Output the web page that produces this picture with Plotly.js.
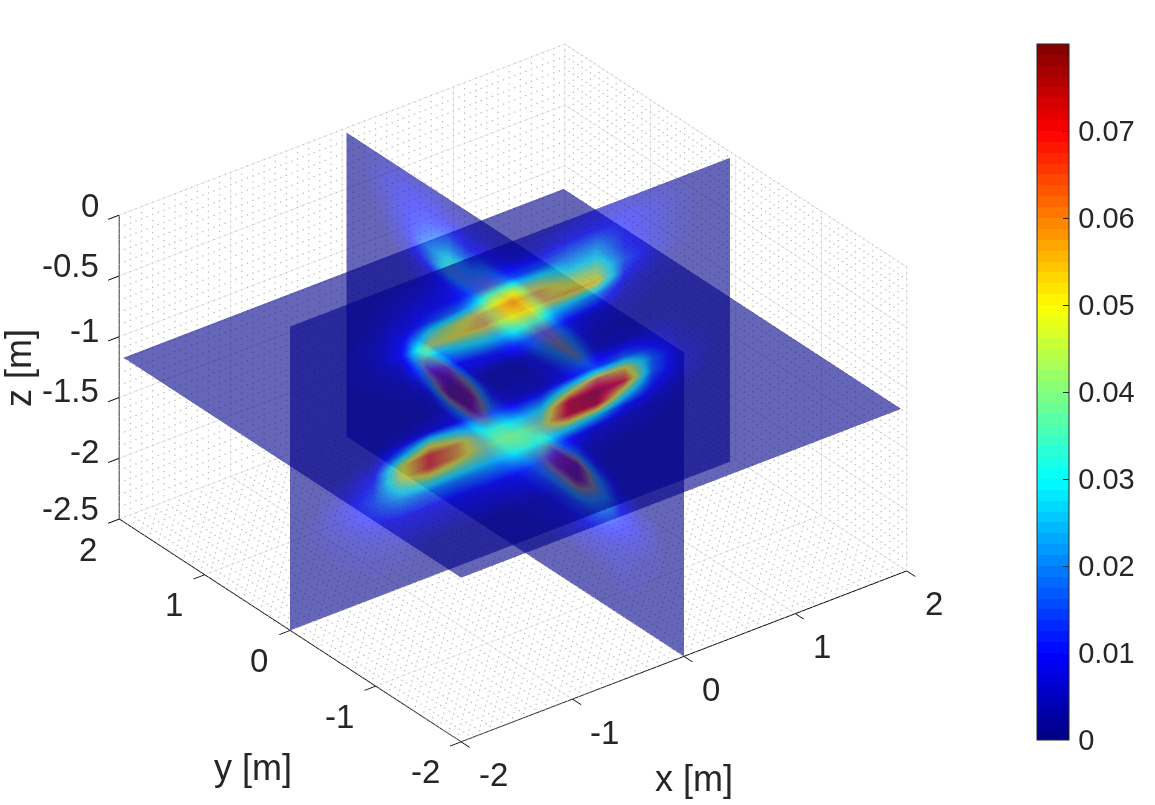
<!DOCTYPE html>
<html><head><meta charset="utf-8">
<script src="https://cdn.plot.ly/plotly-3.0.1.min.js"></script>
<style>html,body{margin:0;padding:0;background:#fff}#c{width:1155px;height:805px}</style>
</head><body><div id="c"></div>
<script>
const alongNodes = [-2,-1.75,-1.5,-1.25,-1,-0.75,-0.5,-0.25,0,0.25,0.5,0.75,1,1.25,1.5,1.75,1.95];
const zNodes = [0,-0.15,-0.3,-0.4,-0.5,-0.6,-0.7,-0.85,-1,-1.15,-1.3,-1.4,-1.5,-1.6,-1.7,-1.8,-1.95,-2.2,-2.5];
// slice y = 0, values in 1e-3, rows follow zNodes, columns follow alongNodes (x)
const sliceY0 = [
[0,0,0,0,1,2,2,1,1,1,2,4,4,2,1,0,0],
[0,0,0,1,3,5,5,3,3,5,8,8,9,6,2,0,0],
[0,0,0,2,6,9,10,12,16,16,20,22,10,6,2,0,0],
[0,0,1,3,6,14,20,36,44,38,28,30,12,6,2,0,0],
[0,0,1,4,8,36,46,54,58,54,44,42,16,6,2,0,0],
[0,0,1,3,10,46,50,54,52,52,54,52,12,4,1,0,0],
[0,0,1,2,5,22,30,36,38,34,28,22,6,2,1,0,0],
[0,0,0,1,2,5,8,12,14,10,6,4,2,1,0,0,0],
[0,0,0,0,1,1,1,1,1,1,1,1,1,0,0,0,0],
[0,0,0,0,0,0,0,0,1,1,1,1,2,2,1,0,0],
[0,0,0,1,3,6,5,3,3,4,8,14,18,10,2,0,0],
[0,0,1,3,20,42,32,18,16,18,40,60,52,18,4,1,0],
[0,1,3,9,48,66,56,34,32,34,72,76,68,18,5,1,0],
[0,1,5,13,46,66,56,42,40,42,72,74,38,12,4,1,0],
[0,2,7,15,32,40,38,36,35,36,36,28,12,6,2,0,0],
[0,2,6,13,20,20,20,22,24,20,12,6,4,2,1,0,0],
[0,1,3,6,8,8,7,8,8,6,3,2,1,1,0,0,0],
[0,0,1,2,2,1,1,1,1,1,1,0,0,0,0,0,0],
[0,0,0,0,0,0,0,0,0,0,0,0,0,0,0,0,0]];
// slice x = 0, columns follow alongNodes (y)
const sliceX0 = [
[0,0,0,0,0,0,0,0,1,1,1,2,3,3,2,1,0],
[0,0,0,0,1,1,2,2,3,3,4,6,8,8,5,1,0],
[0,0,0,1,3,5,6,9,14,12,10,14,12,9,4,1,0],
[0,0,0,2,6,12,18,34,44,34,18,22,15,9,3,0,0],
[0,0,0,3,10,26,40,54,58,50,32,32,20,7,2,0,0],
[0,0,0,3,14,44,52,54,52,48,38,36,16,5,1,0,0],
[0,0,0,2,8,22,30,36,38,32,20,14,6,2,0,0,0],
[0,0,0,0,2,4,7,12,14,9,5,3,2,1,0,0,0],
[0,0,0,0,0,1,1,1,1,1,1,1,0,0,0,0,0],
[0,0,0,0,0,1,1,1,2,1,1,1,1,0,0,0,0],
[0,0,0,0,1,3,4,3,3,3,6,10,8,2,0,0,0],
[0,0,0,1,10,26,20,14,14,14,44,60,52,10,1,0,0],
[0,0,1,6,30,74,64,30,26,30,72,78,64,12,2,0,0],
[0,1,4,10,40,78,68,40,38,40,74,74,32,8,2,0,0],
[0,1,6,12,26,46,40,36,35,34,36,26,9,3,1,0,0],
[0,1,5,10,16,20,18,20,22,18,9,6,3,1,0,0,0],
[0,1,2,5,7,7,6,6,6,5,3,2,1,0,0,0,0],
[0,0,1,2,1,1,1,1,1,1,0,0,0,0,0,0,0],
[0,0,0,0,0,0,0,0,0,0,0,0,0,0,0,0,0]];
// slice z = -1.15, coarse grid
const hNodes = [-2,-1,-0.5,0,0.5,1,1.95];
const sliceZ = [
[0,0,0,0,0,0,0],
[0,0,0,1,0,0,0],
[0,0,1,1,1,0,0],
[0,1,1,2,1,1,0],
[0,0,1,1,1,0,0],
[0,0,0,1,0,0,0],
[0,0,0,0,0,0,0]];
const zPlane = -1.15;
const xTicks = [-2,-1,0,1,2], xLabels = ['-2','-1','0','1','2'];
const zTicks = [-2.5,-2,-1.5,-1,-0.5,0], zLabels = ['-2.5','-2','-1.5','-1','-0.5','0'];
const cbTicks = [0,0.01,0.02,0.03,0.04,0.05,0.06,0.07], cbLabels = ['0','0.01','0.02','0.03','0.04','0.05','0.06','0.07'];
const ink = '#262626', face = 'Liberation Sans';

const clamp = v => Math.max(0, Math.min(1, v));
const jet = [];
for (let i = 0; i < 64; i++) {
  const t = (i + 0.6) / 64;
  const c = [Math.min(4*t-1.5,-4*t+4.5), Math.min(4*t-0.5,-4*t+3.5), Math.min(4*t+0.5,-4*t+2.5)].map(v => Math.round(255*clamp(v)));
  const col = `rgb(${c[0]},${c[1]},${c[2]})`;
  jet.push([i/64, col], [(i+1)/64, col]);
}
const scaled = m => m.map(r => r.map(v => v/1000));
const common = {type:'surface', colorscale:jet, cmin:0, cmax:0.08, opacity:0.6, showscale:false, hoverinfo:'skip',
  lighting:{ambient:1,diffuse:0,specular:0,roughness:1,fresnel:0}, contours:{x:{highlight:false},y:{highlight:false},z:{highlight:false}}};
const tY = Object.assign({}, common, {
  x: zNodes.map(() => alongNodes), y: zNodes.map(() => alongNodes.map(() => 0)), z: zNodes.map(z => alongNodes.map(() => z)),
  surfacecolor: scaled(sliceY0)});
const tX = Object.assign({}, common, {
  x: zNodes.map(() => alongNodes.map(() => 0)), y: zNodes.map(() => alongNodes), z: zNodes.map(z => alongNodes.map(() => z)),
  surfacecolor: scaled(sliceX0)});
const tZ = Object.assign({}, common, {
  x: hNodes, y: hNodes, z: hNodes.map(() => hNodes.map(() => zPlane)), surfacecolor: scaled(sliceZ),
  showscale:true,
  colorbar:{thicknessmode:'pixels',thickness:32,lenmode:'pixels',len:696,x:1037/1155,xanchor:'left',y:(805-392)/805,yanchor:'middle',
    tickvals:cbTicks,ticktext:cbLabels.map(s => '\u200A' + s),ticks:'inside',ticklen:6,tickcolor:ink,tickwidth:1,outlinecolor:ink,outlinewidth:1,
    tickfont:{family:face,size:29,color:ink},xpad:0,ypad:0}});

// dotted minor grid on the three back walls, as rows of small dots
const dots = {x:[],y:[],z:[]};
const add = (x,y,z) => { dots.x.push(x); dots.y.push(y); dots.z.push(z); };
const step = 0.05;
for (let i = -20; i <= 20; i++) { const v = i/10;
  for (let s = -2.5; s <= 0; s += step) { add(v,2,s); add(2,v,s); }
  for (let s = -2; s <= 2; s += step) { add(v,s,-2.5); add(s,v,-2.5); }
}
for (let i = -25; i <= 0; i++) { const v = i/10;
  for (let s = -2; s <= 2; s += step) { add(s,2,v); add(2,s,v); }
}
const tDots = {type:'scatter3d',mode:'markers',x:dots.x,y:dots.y,z:dots.z,marker:{size:0.85,color:'#bcbcbc',line:{width:0}},hoverinfo:'skip',showlegend:false};

const axisStyle = {showbackground:false, showspikes:false, zeroline:false, showline:true, linecolor:'#000000', linewidth:2,
  gridcolor:'#d8d8d8', gridwidth:1, ticks:'outside', ticklen:14, tickwidth:2, tickcolor:'#000000', showticklabels:false, title:{text:''}, autorange:false};
const tickFont = {family:face,size:33,color:ink};
const lab = (x,y,z,text,xs,ys,anchor) => ({x,y,z,text,showarrow:false,xshift:xs,yshift:ys,xanchor:anchor||'center',yanchor:'middle',font:tickFont});
const sceneNotes = [];
xTicks.forEach((v,i) => sceneNotes.push(lab(v,-2,-2.5,xLabels[i],v<0?32:27,-33)));
xTicks.forEach((v,i) => sceneNotes.push(lab(-2,v,-2.5,xLabels[i],v<0?-36:-31,-30)));
const zLift = [11,7,7,6,10,10];
zTicks.forEach((v,i) => sceneNotes.push(lab(-2,2,v,zLabels[i],-18,zLift[i],'right')));
const titleFont = {family:face,size:36,color:ink};
const title = (text,x,y,angle) => ({text,xref:'paper',yref:'paper',x:x/1155,y:1-y/805,xanchor:'center',yanchor:'middle',showarrow:false,textangle:angle||0,font:titleFont});
const layout = {
  width:1155,height:805,margin:{l:0,r:0,t:0,b:0},paper_bgcolor:'#fff',showlegend:false,
  scene:{domain:{x:[0,1026/1155],y:[1-786/805,1]},
    aspectmode:'manual',aspectratio:{x:1.429,y:1.429,z:0.893},
    camera:{projection:{type:'orthographic'},up:{x:0,y:0,z:1},center:{x:0,y:0,z:0},eye:{x:-0.5176,y:-0.6747,z:0.491}},
    xaxis:Object.assign({},axisStyle,{range:[-2,2],tickvals:xTicks,ticktext:xLabels}),
    yaxis:Object.assign({},axisStyle,{range:[-2,2],tickvals:xTicks,ticktext:xLabels}),
    zaxis:Object.assign({},axisStyle,{range:[-2.5,0],tickvals:zTicks,ticktext:zLabels}),
    annotations:sceneNotes},
  annotations:[title('x [m]',694,778),title('y [m]',253,767),title('z [m]',19,368,-90)]
};
Plotly.newPlot('c',[tDots,tZ,tX,tY],layout,{displayModeBar:false});
</script></body></html>
